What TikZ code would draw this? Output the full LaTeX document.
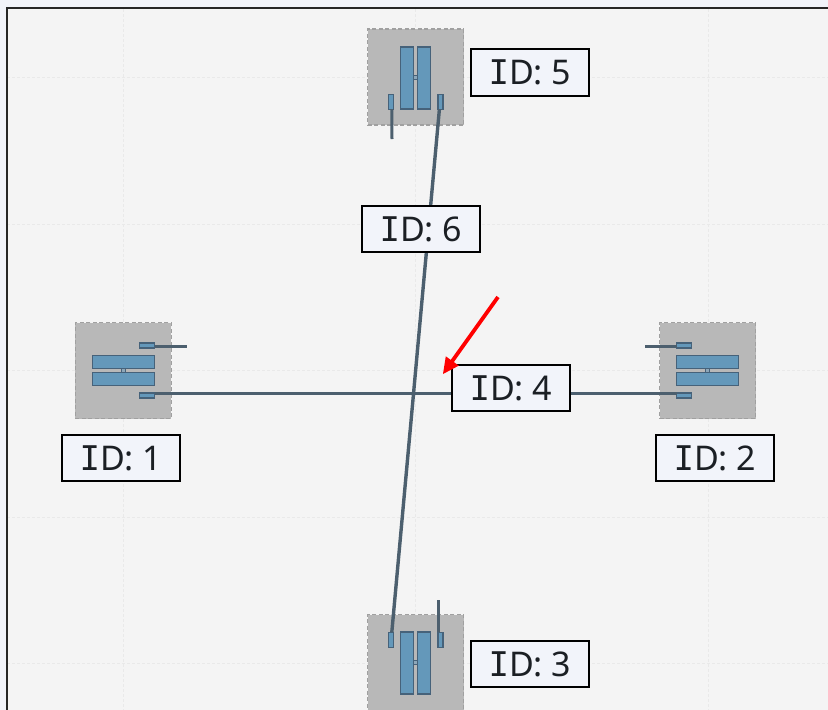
\documentclass[tikz,border=0pt]{standalone}
\usepackage{fontspec}
\usetikzlibrary{calc}
\setmainfont{Noto Sans}
\newfontfamily\capfont{DejaVu Sans Mono}
\definecolor{pagebg}{HTML}{F1F3F9}
\definecolor{panelbg}{HTML}{F4F4F4}
\definecolor{gridc}{HTML}{E9E9E9}
\definecolor{zonefill}{HTML}{B8B8B8}
\definecolor{zoneedge}{HTML}{A0A0A0}
\definecolor{bluefill}{HTML}{6498BA}
\definecolor{blueedge}{HTML}{46627A}
\definecolor{wirec}{HTML}{4C5F6E}
\definecolor{labelbg}{HTML}{F2F4FA}
\definecolor{inkc}{HTML}{1B1F24}
\newcommand{\idtext}[1]{{\capfont I}D: #1}
\tikzset{
  x=1pt,y=-1pt,
  zone/.style={draw=zoneedge,fill=zonefill,line width=1.6pt,dash pattern=on 4pt off 2.5pt,inner sep=0pt,outer sep=0pt,minimum width=96pt,minimum height=96pt},
  bar/.style={draw=blueedge,fill=bluefill,line width=1.2pt,inner sep=0pt,outer sep=0pt},
  hub/.style={draw=blueedge,fill=bluefill,fill opacity=.5,line width=.7pt,inner sep=0pt,outer sep=0pt,minimum width=4pt,minimum height=4pt},
  wire/.style={draw=wirec,line width=3.4pt},
  stub/.style={draw=wirec,line width=3pt},
  tag/.style={draw=black,fill=labelbg,line width=2pt,text=inkc,font=\fontsize{34}{34}\selectfont,inner sep=0pt,outer sep=0pt,minimum width=118.5pt,minimum height=46.5pt},
  gridline/.style={draw=gridc,line width=.8pt,densely dashed},
}
\begin{document}
\begin{tikzpicture}
\useasboundingbox (0,0) rectangle (828,710);
\fill[pagebg] (0,0) rectangle (828,710);
\fill[panelbg] (6.5,8) rectangle (828,710);
\foreach \gx in {123,415.5,708} \draw[gridline] (\gx,9) -- (\gx,710);
\foreach \gy in {77,224,370.5,517,663} \draw[gridline] (7,\gy) -- (828,\gy);
\draw[black!85,line width=2pt] (6.5,710) -- (6.5,8) -- (828,8);

% zones
\node[zone] (zone5) at (415.5,77) {};
\node[zone] (zone1) at (123.3,370.5) {};
\node[zone] (zone2) at (707.6,370.5) {};
\node[zone] (zone3) at (415.5,662.5) {};

% wires
\node[bar,minimum width=5pt,minimum height=15pt] (t5l) at (390.8,101.7) {};
\node[bar,minimum width=5pt,minimum height=15pt] (t5r) at (440.4,101.7) {};
\node[bar,minimum width=5pt,minimum height=15pt] (t3l) at (390.8,639.7) {};
\node[bar,minimum width=5pt,minimum height=15pt] (t3r) at (440.4,639.7) {};
\node[bar,minimum width=15pt,minimum height=5pt] (t1a) at (147,345.5) {};
\node[bar,minimum width=15pt,minimum height=5pt] (t1b) at (147,395.4) {};
\node[bar,minimum width=15pt,minimum height=5pt] (t2a) at (684.3,345.5) {};
\node[bar,minimum width=15pt,minimum height=5pt] (t2b) at (684.3,395.4) {};
\coordinate (s5) at (392,139);
\coordinate (s3) at (438.5,600);
\coordinate (s1) at (186.5,346.7);
\coordinate (s2) at (645,346.7);
\draw[wire] ([xshift=-1pt]t5r.south) -- ([xshift=1pt]t3l.north);
\draw[wire] ([yshift=2pt]t1b.east) -- ([yshift=2pt]t2b.west);
\draw[stub] ([xshift=1pt]t5l.south) -- (s5);
\draw[stub] ([xshift=-1.9pt]t3r.north) -- (s3);
\draw[stub] ([yshift=-1.2pt]t1a.east) -- (s1);
\draw[stub] ([yshift=-1.2pt]t2a.west) -- (s2);

% devices
\node[bar,minimum width=13pt,minimum height=62pt] (b5l) at (407,78) {};
\node[bar,minimum width=13pt,minimum height=62pt] (b5r) at (424,78) {};
\node[hub] (h5) at (415.5,77) {};
\node[bar,minimum width=13pt,minimum height=62pt] (b3l) at (407,663) {};
\node[bar,minimum width=13pt,minimum height=62pt] (b3r) at (424,663) {};
\node[hub] (h3) at (415.5,662.5) {};
\node[bar,minimum width=62pt,minimum height=13pt] (b1a) at (123.5,361.8) {};
\node[bar,minimum width=62pt,minimum height=13pt] (b1b) at (123.5,379.2) {};
\node[hub] (h1) at (123.5,370.5) {};
\node[bar,minimum width=62pt,minimum height=13pt] (b2a) at (707.8,361.8) {};
\node[bar,minimum width=62pt,minimum height=13pt] (b2b) at (707.8,379.2) {};
\node[hub] (h2) at (707.8,370.5) {};

% labels
\node[tag] (l5) at (530,72.5) {\idtext{5}};
\node[tag] (l6) at (421,229) {\idtext{6}};
\node[tag] (l4) at (511,388) {\idtext{4}};
\node[tag] (l1) at (121,458) {\idtext{1}};
\node[tag] (l2) at (715,458) {\idtext{2}};
\node[tag] (l3) at (530,664) {\idtext{3}};

% arrow
\coordinate (af) at (498,297);
\coordinate (at) at (443,374);
\draw[red,line width=3.8pt,shorten >=13pt] (af) -- (at);
\fill[red] (at) -- ($(at)!16pt!(af)!8pt!90:(af)$) -- ($(at)!16pt!(af)!8pt!-90:(af)$) -- cycle;
\end{tikzpicture}
\end{document}
